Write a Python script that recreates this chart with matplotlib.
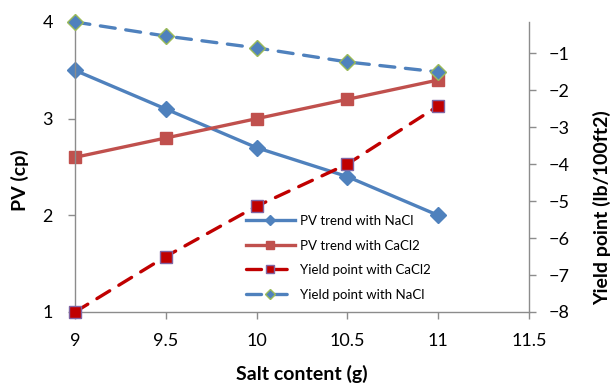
import matplotlib
matplotlib.use("Agg")
import matplotlib.pyplot as plt

# salt content (g) and measured rheology
salt = [9, 9.5, 10, 10.5, 11]
pv_nacl = [3.5, 3.1, 2.7, 2.4, 2.0]
pv_cacl2 = [2.6, 2.8, 3.0, 3.2, 3.4]
yp_cacl2 = [-8.0, -6.5, -5.14, -4.0, -2.43]
yp_nacl = [-0.16, -0.54, -0.86, -1.24, -1.51]

plt.rcParams['font.family'] = ['Lato', 'DejaVu Sans']

fig = plt.figure(figsize=(6.11, 3.84), dpi=100)
ax = fig.add_axes([75 / 611, 72 / 384, 454 / 611, 290 / 384])
ax2 = ax.twinx()

blue = '#4F81BD'
red = '#C0504D'
dred = '#C00000'
dash = (0, (4.5, 3.2))

l1, = ax.plot(salt, pv_nacl, color=blue, lw=2.4, marker='D', ms=8,
              mfc=blue, mec=blue, clip_on=False, label='PV trend with NaCl')
l2, = ax.plot(salt, pv_cacl2, color=red, lw=2.4, marker='s', ms=9,
              mfc=red, mec=red, clip_on=False, label='PV trend with CaCl2')
l3, = ax2.plot(salt, yp_cacl2, color=dred, lw=2.4, ls=dash,
               dash_capstyle='round', marker='s', ms=9, mfc=dred,
               mec='#8064A2', mew=1, clip_on=False,
               label='Yield point with CaCl2')
l4, = ax2.plot(salt, yp_nacl, color=blue, lw=2.4, ls=dash,
               dash_capstyle='round', marker='D', ms=8, mfc=blue,
               mec='#9BBB59', mew=1, clip_on=False,
               label='Yield point with NaCl')

ax.set_xlim(9, 11.5)
ax.set_ylim(1, 4)
ax2.set_ylim(-8, -0.16)
ax.set_xticks([9, 9.5, 10, 10.5, 11, 11.5])
ax.set_xticklabels(['9', '9.5', '10', '10.5', '11', '11.5'])
ax.set_yticks([1, 2, 3, 4])
ax2.set_yticks(range(-8, 0))

for a in (ax, ax2):
    a.spines['top'].set_visible(False)
    for s in ('left', 'right', 'bottom'):
        a.spines[s].set_color('#8C8C8C')
        a.spines[s].set_linewidth(1)
    a.tick_params(colors='#8C8C8C', labelcolor='black', labelsize=13,
                  length=5, width=1)
ax.spines['right'].set_visible(False)
ax2.spines['left'].set_visible(False)
ax2.spines['bottom'].set_visible(False)
ax.tick_params(axis='x', pad=10)
ax.tick_params(axis='y', pad=11)
ax2.tick_params(axis='y', pad=9)

ax.set_xlabel('Salt content (g)', fontsize=14, fontweight='bold', va='center')
ax.xaxis.set_label_coords(0.5, -0.215)
ax.set_ylabel('PV (cp)', fontsize=14, fontweight='bold', va='center')
ax.yaxis.set_label_coords(-0.121, 0.455)
ax2.set_ylabel('Yield point (lb/100ft2)', fontsize=14, fontweight='bold',
               va='center', rotation=90)
ax2.yaxis.set_label_coords(1.161, 0.36)

ax2.legend(handles=[l1, l2, l3, l4], loc='upper left',
           bbox_to_anchor=(246 / 611, 1 - 215 / 384),
           bbox_transform=fig.transFigure, frameon=False, fontsize=9.5,
           markerscale=0.6, handlelength=3.7, handletextpad=0.4,
           labelspacing=0.95, borderpad=0, borderaxespad=0)

fig.savefig('out.png', dpi=100)
